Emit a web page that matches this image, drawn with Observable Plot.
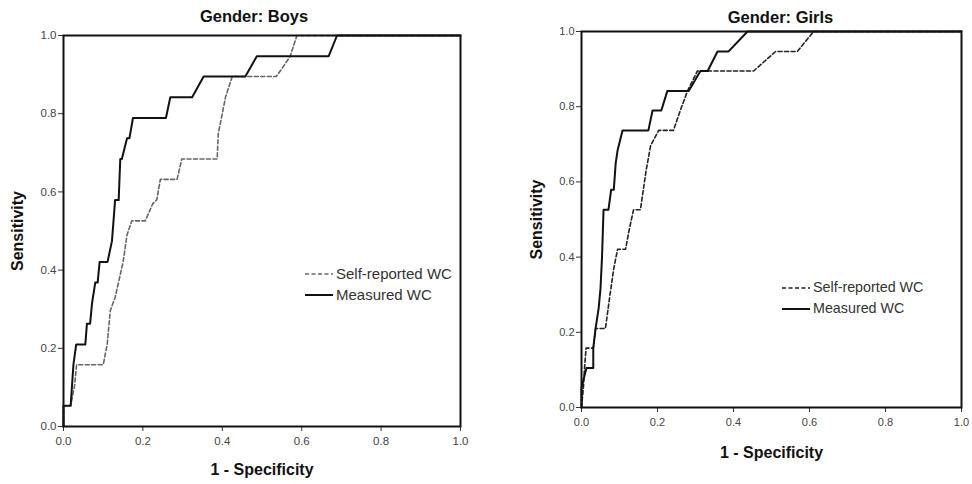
<!DOCTYPE html>
<html><head><meta charset="utf-8">
<script src="https://cdn.jsdelivr.net/npm/d3@7"></script>
<script src="https://cdn.jsdelivr.net/npm/@observablehq/plot@0.6"></script>
<style>
body{margin:0;background:#fff;font-family:"Liberation Sans",Arial,sans-serif;}
#wrap{position:relative;width:972px;height:484px;overflow:hidden;background:#fff;}
.panel{position:absolute;top:0;}
.panel svg{overflow:visible;}
g[aria-label="x-axis label"] text, g[aria-label="y-axis label"] text{font-weight:bold;font-size:16px;fill:#111;}
.legend{position:absolute;color:#333;line-height:21px;}
.legend div{display:flex;align-items:center;white-space:nowrap;}
.legend svg{margin-right:3px;}
</style>
</head><body>
<div id="wrap"></div>
<script>
// ---- data ----
const titles = ["Gender: Boys", "Gender: Girls"];
const seriesNames = ["Self-reported WC", "Measured WC"];
const tickValues = [0, 0.2, 0.4, 0.6, 0.8, 1.0];

const boysSelfX = [0,0,0.018,0.028,0.033,0.1,0.11,0.118,0.13,0.15,0.16,0.172,0.206,0.225,0.235,0.244,0.286,0.298,0.387,0.39,0.4,0.408,0.425,0.536,0.56,0.571,0.588,1];
const boysSelfY = [0,0.053,0.053,0.105,0.158,0.158,0.21,0.297,0.33,0.42,0.49,0.526,0.526,0.57,0.58,0.632,0.632,0.684,0.684,0.75,0.8,0.842,0.895,0.895,0.93,0.947,1,1];

const boysMeasX = [0,0,0.018,0.025,0.032,0.055,0.059,0.067,0.072,0.08,0.086,0.091,0.111,0.122,0.126,0.13,0.139,0.143,0.147,0.16,0.166,0.175,0.258,0.269,0.324,0.353,0.458,0.487,0.668,0.689,1];
const boysMeasY = [0,0.053,0.053,0.158,0.21,0.21,0.263,0.263,0.316,0.368,0.368,0.421,0.421,0.474,0.526,0.579,0.579,0.684,0.684,0.737,0.737,0.789,0.789,0.842,0.842,0.895,0.895,0.947,0.947,1,1];

const girlsSelfX = [0,0.005,0.008,0.012,0.031,0.037,0.063,0.075,0.085,0.095,0.116,0.125,0.137,0.155,0.17,0.182,0.203,0.242,0.26,0.279,0.305,0.453,0.511,0.568,0.611,1];
const girlsSelfY = [0,0.053,0.105,0.158,0.158,0.21,0.21,0.3,0.37,0.421,0.421,0.47,0.526,0.526,0.63,0.697,0.737,0.737,0.79,0.842,0.895,0.895,0.947,0.947,1,1];

const girlsMeasX = [0,0,0.013,0.031,0.031,0.037,0.045,0.05,0.054,0.058,0.071,0.078,0.085,0.09,0.095,0.108,0.176,0.187,0.21,0.226,0.282,0.313,0.332,0.358,0.387,0.437,1];
const girlsMeasY = [0,0.053,0.105,0.105,0.158,0.21,0.263,0.316,0.4,0.526,0.526,0.579,0.579,0.65,0.684,0.737,0.737,0.79,0.79,0.842,0.842,0.895,0.895,0.947,0.947,1,1];

const zip = (xs, ys) => xs.map((x, i) => ({x, y: ys[i]}));

function panel(o) {
  const fmt = d3.format(".1f");
  return Plot.plot({
    width: o.width, height: 484,
    marginLeft: o.ml, marginRight: o.mr, marginTop: o.mt, marginBottom: o.mb,
    style: {fontFamily: '"Liberation Sans", Arial, sans-serif', fontSize: o.tickFont, color: "#333", background: "transparent", overflow: "visible"},
    x: {domain: [0, 1]},
    y: {domain: [0, 1]},
    marks: [
      Plot.axisX({ticks: tickValues, tickFormat: fmt, tickSize: 5, tickPadding: o.xpad, label: "1 - Specificity", labelAnchor: "center", labelOffset: o.xlo, labelArrow: false, fill: "#444"}),
      Plot.axisY({ticks: tickValues, tickFormat: fmt, tickSize: 5, tickPadding: 2, label: "Sensitivity", labelAnchor: "center", labelOffset: o.ylo, labelArrow: false, fill: "#444"}),
      Plot.line(zip(o.selfX, o.selfY), {x: "x", y: "y", stroke: o.dashColor, strokeWidth: 1.6, strokeDasharray: "4,2.5"}),
      Plot.line(zip(o.measX, o.measY), {x: "x", y: "y", stroke: "#111", strokeWidth: 2}),
      Plot.frame({stroke: "#111", strokeWidth: 2}),
      Plot.text([o.title], {frameAnchor: "top", dy: o.tdy, dx: o.tdx, fontWeight: "bold", fontSize: 16.5, fill: "#111"})
    ]
  });
}

function legend(left, top, dashColor, fontSize) {
  const el = document.createElement("div");
  el.className = "legend";
  el.style.left = left + "px";
  el.style.top = top + "px";
  el.style.fontSize = fontSize + "px";
  el.innerHTML =
    `<div><svg width="28" height="6"><line x1="0" x2="28" y1="3" y2="3" stroke="${dashColor}" stroke-width="1.6" stroke-dasharray="4,2.5"/></svg>${seriesNames[0]}</div>` +
    `<div><svg width="28" height="6"><line x1="0" x2="28" y1="3" y2="3" stroke="#111" stroke-width="2"/></svg>${seriesNames[1]}</div>`;
  return el;
}

const wrap = document.getElementById("wrap");

const p1 = panel({width: 480, ml: 63, mr: 20, mt: 35, mb: 58, xpad: 5, xlo: 48, ylo: 52, tdy: -25, tdx: -8, tickFont: "11.5px",
  selfX: boysSelfX, selfY: boysSelfY, measX: boysMeasX, measY: boysMeasY, dashColor: "#666", title: titles[0]});
const d1 = document.createElement("div"); d1.className = "panel"; d1.style.left = "0px"; d1.appendChild(p1); wrap.appendChild(d1);

const p2 = panel({width: 482, ml: 91, mr: 11, mt: 31, mb: 77, xpad: 6, xlo: 50, ylo: 51, tdy: -20, tdx: 9, tickFont: "11px",
  selfX: girlsSelfX, selfY: girlsSelfY, measX: girlsMeasX, measY: girlsMeasY, dashColor: "#222", title: titles[1]});
const d2 = document.createElement("div"); d2.className = "panel"; d2.style.left = "490px"; d2.appendChild(p2); wrap.appendChild(d2);

wrap.appendChild(legend(305, 263, "#666", 15));
wrap.appendChild(legend(782, 277, "#222", 14.3));
</script>
</body></html>
